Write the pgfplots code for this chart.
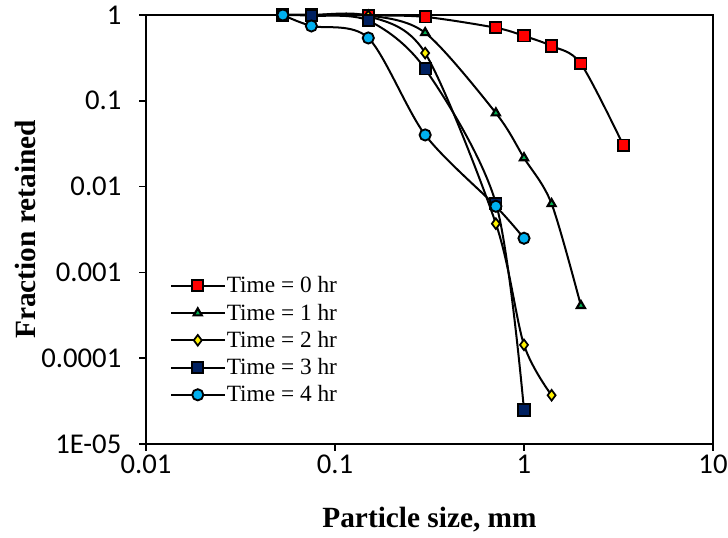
\documentclass[border=0pt]{standalone}
\usepackage{pgfplots}
\pgfplotsset{compat=1.18}
\usepackage{fontspec}
\setmainfont{Liberation Serif}
\newfontfamily\carlito{Carlito}
\definecolor{cNavy}{HTML}{002060}
\definecolor{cCyan}{HTML}{00B0F0}
\definecolor{cGreen}{HTML}{00B050}
\begin{document}
\begin{tikzpicture}
\path[use as bounding box] (-109.5pt,-70.5pt) rectangle (436.5pt,333pt);
\begin{axis}[
  xmode=log, ymode=log,
  scale only axis, width=425.25pt, height=321.75pt,
  xmin=0.01, xmax=10, ymin=1e-5, ymax=1,
  xtick={0.01,0.1,1,10}, xticklabels={0.01,0.1,1,10},
  ytick={1e-5,1e-4,1e-3,1e-2,1e-1,1},
  yticklabels={1E-05,0.0001,0.001,0.01,0.1,1},
  xtick pos=left, ytick pos=left,
  minor tick length=0pt, minor tick style={draw=none},
  tick align=outside, major tick length=5pt,
  tick style={black, line width=1.3pt},
  axis line style={line width=1.5pt},
  ticklabel style={font=\carlito\fontsize{21.5}{24}\selectfont},
  yticklabel style={xshift=-10pt},
  xlabel={\textbf{Particle size, mm}},
  ylabel={\textbf{Fraction retained}},
  xlabel style={yshift=-18pt},
  ylabel style={yshift=-2.5pt},
  label style={font=\fontsize{22}{24}\selectfont},
  clip=false,
  every axis plot/.append style={line width=1.5pt, smooth, tension=0.5},
  legend cell align=left,
  legend style={draw=none, fill=none, at={(0.035,0.40)}, anchor=north west,
    font=\fontsize{17.5}{20}\selectfont, row sep=4.8pt,
    nodes={inner sep=1pt}},
  legend image code/.code={\draw[mark repeat=2,mark phase=2] plot coordinates {(0pt,0pt)(20pt,0pt)(40pt,0pt)};},
]
\addplot[black, mark=square*, mark size=4.2pt, mark options={fill=red, draw=black, line width=1.4pt}]
 coordinates {(0.053,1)(0.075,1)(0.15,0.99)(0.3,0.95)(0.71,0.71)(1,0.57)(1.4,0.435)(2,0.27)(3.35,0.0305)};
\addlegendentry{Time = 0 hr}
\addplot[black, mark=triangle*, mark size=3.5pt, mark options={fill=cGreen, draw=black, line width=1.6pt}]
 coordinates {(0.053,1)(0.075,1)(0.15,0.99)(0.3,0.62)(0.71,0.072)(1,0.0216)(1.4,0.0063)(2,0.00041)};
\addlegendentry{Time = 1 hr}
\addplot[black, mark=diamond*, mark size=4pt, mark options={fill=yellow, draw=black, line width=1.3pt}]
 coordinates {(0.053,1)(0.075,1)(0.15,0.97)(0.3,0.36)(0.71,0.0037)(1,0.000143)(1.4,0.000037)};
\addlegendentry{Time = 2 hr}
\addplot[black, mark=square*, mark size=4.2pt, mark options={fill=cNavy, draw=black, line width=1.4pt}]
 coordinates {(0.053,1)(0.075,0.98)(0.15,0.86)(0.3,0.235)(0.71,0.0064)(1,0.0000249)};
\addlegendentry{Time = 3 hr}
\addplot[black, mark=*, mark size=4.2pt, mark options={fill=cCyan, draw=black, line width=1.4pt}]
 coordinates {(0.053,1)(0.075,0.745)(0.15,0.54)(0.3,0.04)(0.71,0.0059)(1,0.0025)};
\addlegendentry{Time = 4 hr}
\end{axis}
\end{tikzpicture}
\end{document}
